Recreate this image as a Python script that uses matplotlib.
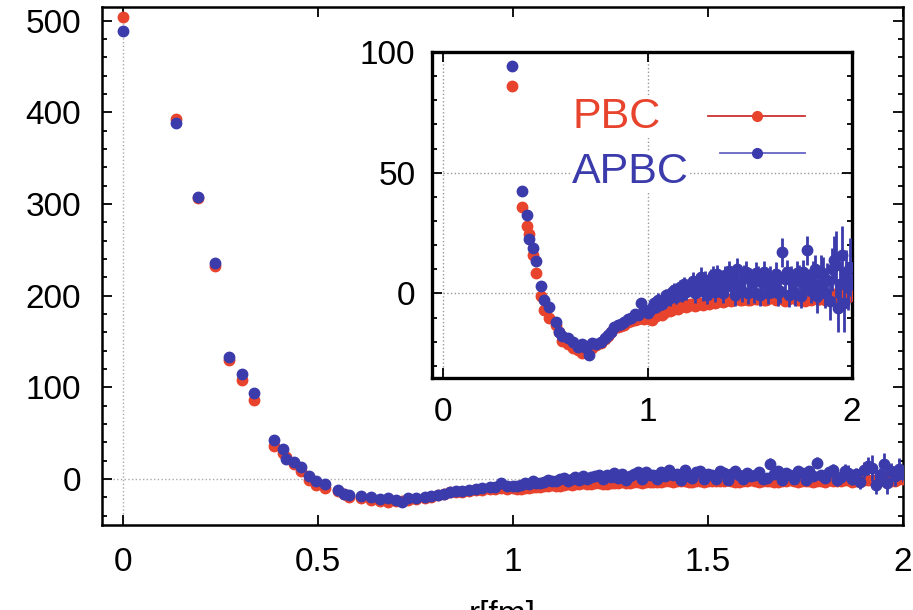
import matplotlib
matplotlib.use("Agg")
import matplotlib.pyplot as plt
from matplotlib.lines import Line2D
from matplotlib.ticker import MultipleLocator

plt.rcParams['font.family'] = ['Liberation Sans', 'DejaVu Sans']

# r in fm (same points for both boundary conditions)
r_fm = [0.000, 0.136, 0.193, 0.236, 0.272, 0.306, 0.336, 0.388, 0.410, 0.418,
        0.438, 0.456, 0.478, 0.495, 0.517, 0.550, 0.567, 0.580, 0.610, 0.635,
        0.660, 0.680, 0.700, 0.715, 0.730, 0.750, 0.773, 0.790, 0.807, 0.822,
        0.838, 0.855, 0.870, 0.887, 0.905, 0.920, 0.940, 0.955, 0.970, 0.985,
        1.000,
        1.01, 1.02, 1.03, 1.04, 1.05, 1.06, 1.07, 1.08, 1.09, 1.10,
        1.11, 1.12, 1.13, 1.14, 1.15, 1.16, 1.17, 1.18, 1.19, 1.20,
        1.21, 1.22, 1.23, 1.24, 1.25, 1.26, 1.27, 1.28, 1.29, 1.30,
        1.31, 1.32, 1.33, 1.34, 1.35, 1.36, 1.37, 1.38, 1.39, 1.40,
        1.41, 1.42, 1.43, 1.44, 1.45, 1.46, 1.47, 1.48, 1.49, 1.50,
        1.51, 1.52, 1.53, 1.54, 1.55, 1.56, 1.57, 1.58, 1.59, 1.60,
        1.61, 1.62, 1.63, 1.64, 1.65, 1.66, 1.67, 1.68, 1.69, 1.70,
        1.71, 1.72, 1.73, 1.74, 1.75, 1.76, 1.77, 1.78, 1.79, 1.80,
        1.81, 1.82, 1.83, 1.84, 1.85, 1.86, 1.87, 1.88, 1.89, 1.90,
        1.91, 1.92, 1.93, 1.94, 1.95, 1.96, 1.97, 1.98, 1.99, 2.00]

pbc = [504, 393, 307, 232, 130, 108, 86, 36, 28, 24.6,
       16, 8.4, -1.0, -6.7, -10, -13, -16, -19.5, -21, -22.5,
       -23.5, -24.6, -24, -23.5, -22.5, -21.5, -20.5, -19, -17.5, -16,
       -14.5, -14, -13.5, -13, -12, -11.5, -11, -10.5, -10, -10.5,
       -10,
       -10.5, -10.8, -9.8, -9.5, -9.0, -8.5, -8.8, -8.0, -7.2, -6.7,
       -7.4, -7.0, -6.0, -5.5, -6.3, -5.8, -5.0, -4.6, -5.4, -5.0,
       -4.4, -4.2, -5.1, -4.8, -3.9, -4.0, -4.6, -3.5, -3.9, -4.2,
       -3.2, -3.0, -3.8, -3.5, -2.6, -2.8, -3.6, -3.2, -2.4, -2.2,
       -3.0, -2.5, -1.9, -1.7, -2.9, -2.6, -2.0, -1.8, -2.8, -2.5,
       -1.6, -1.5, -2.4, -2.2, -1.4, -1.8, -2.9, -2.7, -1.9, -2.0,
       -1.2, -1.5, -2.6, -2.4, -1.6, -1.8, -3.0, -2.8, -1.7, -2.0,
       -1.3, -1.5, -2.7, -2.5, -1.6, -2.5, -3.1, -1.8, -2.2, -2.8,
       -1.1, -1.5, -2.4, -2.2, -0.8, -1.0, -2.6, -2.0, -0.9, -1.2,
       -0.6, -1.0, -2.3, -2.0, -0.2, -0.5, -1.8, -1.5, 0.5, 0.0]

pbc_err = [0.5, 0.5, 0.5, 0.5, 0.5, 0.5, 0.5, 0.5, 0.5, 0.5,
           0.5, 0.5, 0.5, 0.5, 0.5, 0.8, 0.8, 0.8, 0.8, 0.8,
           1.0, 1.0, 1.0, 1.0, 1.0, 1.0, 1.0, 1.0, 1.0, 1.0,
           1.0, 1.0, 1.0, 1.0, 1.0, 1.0, 1.0, 1.0, 1.0, 1.0,
           1.2,
           1.2, 1.2, 1.2, 1.2, 1.2, 1.2, 1.2, 1.2, 1.2, 1.2,
           1.2, 1.2, 1.2, 1.2, 1.2, 1.2, 1.2, 1.2, 1.2, 1.2,
           1.5, 1.5, 1.5, 1.5, 1.5, 1.5, 1.5, 1.5, 1.5, 1.5,
           1.5, 1.5, 1.5, 1.5, 1.5, 1.5, 1.5, 1.5, 1.5, 1.5,
           1.5, 1.5, 1.5, 1.5, 1.5, 1.5, 1.5, 1.5, 1.5, 1.5,
           2.0, 2.0, 2.0, 2.0, 2.0, 2.0, 2.0, 2.0, 2.0, 2.0,
           2.0, 2.0, 2.0, 2.0, 2.0, 2.0, 2.0, 2.0, 2.0, 2.0,
           2.0, 2.0, 2.0, 2.0, 2.0, 2.0, 2.0, 2.0, 2.0, 2.0,
           2.5, 2.5, 2.5, 2.5, 2.5, 2.5, 2.5, 2.5, 2.5, 2.5,
           3.0, 3.0, 3.0, 3.0, 3.0, 3.0, 3.0, 3.0, 3.0, 3.0]

apbc = [489, 389, 308, 236, 133, 115, 94, 42.5, 32.5, 22.5,
        18.8, 13.5, 3.0, -2.5, -5.4, -12, -15.8, -17.5, -18.3, -20,
        -22, -21, -22.5, -25.4, -20.4, -21, -20, -18.5, -17, -16,
        -14, -13, -12.5, -12, -10.5, -10, -8.5, -9, -3.8, -7,
        -8,
        -7.0, -6.0, -4.0, -5.5, -2.5, -4.0, -4.2, -3.0, -0.5, -2.2,
        -2.0, 0.5, 1.5, -1.5, 0.0, 2.5, -0.5, 3.8, 0.5, 2.0,
        3.0, 5.0, 0.0, 4.0, 2.5, 7.0, 1.0, 5.5, -0.5, 3.5,
        6.0, 7.5, 0.5, 8.0, 4.0, 5.0, 0.0, 7.5, 3.0, 9.5,
        4.0, 6.0, -0.5, 10.0, 3.5, 1.0, 7.5, 9.0, 0.0, 6.0,
        4.5, 0.5, 8.5, 7.0, -0.5, 5.5, 9.0, 4.0, 0.0, 7.0,
        3.0, 5.0, 8.0, 0.0, 1.0, 17.0, 6.0, 9.0, -0.5, 6.5,
        4.5, 0.0, 8.5, 7.0, -1.0, 8.7, 3.0, 18.0, 5.0, 1.0,
        7.5, 10.0, -1.0, 2.5, 9.0, 7.0, 0.0, 5.5, -3.0, 10.0,
        14.0, 12.0, -6.0, 4.0, 16.0, -4.0, 9.0, 3.0, 11.0, 6.0]

apbc_err = [0.5, 0.5, 0.5, 0.5, 0.5, 0.5, 0.5, 0.5, 0.5, 0.5,
            0.5, 0.5, 0.5, 0.5, 0.5, 1.0, 1.0, 1.0, 1.0, 1.0,
            1.2, 1.2, 1.2, 1.2, 1.2, 1.2, 1.2, 1.2, 1.2, 1.2,
            1.5, 1.5, 1.5, 1.5, 1.5, 1.5, 1.5, 1.5, 1.5, 1.5,
            2.0,
            2.5, 2.5, 2.5, 2.5, 2.5, 2.5, 2.5, 2.5, 2.5, 2.5,
            3.0, 3.0, 3.0, 3.0, 3.0, 3.0, 3.0, 3.0, 3.0, 3.0,
            4.0, 4.0, 4.0, 4.0, 4.0, 4.0, 4.0, 4.0, 4.0, 4.0,
            4.0, 4.0, 4.0, 4.0, 4.0, 4.0, 4.0, 4.0, 4.0, 4.0,
            4.5, 4.5, 4.5, 4.5, 4.5, 4.5, 4.5, 4.5, 4.5, 4.5,
            4.5, 4.5, 4.5, 4.5, 4.5, 4.5, 4.5, 4.5, 4.5, 4.5,
            5.0, 5.0, 5.0, 5.0, 5.0, 6.0, 5.0, 5.0, 5.0, 5.0,
            5.0, 5.0, 5.0, 5.0, 5.0, 5.0, 5.0, 6.0, 5.0, 5.0,
            6.0, 6.0, 7.0, 6.0, 7.0, 8.0, 6.0, 7.0, 8.0, 9.0,
            10.0, 14.0, 10.0, 8.0, 12.0, 12.0, 9.0, 10.0, 12.0, 9.0]

red = "#e8432c"
blue = "#3b3bab"
labels = ["PBC", "APBC"]

W, H = 913, 610
fig = plt.figure(figsize=(W / 100, H / 100), dpi=100)


def px_box(left, top, right, bottom):
    return [left / W, 1 - bottom / H, (right - left) / W, (bottom - top) / H]


def draw_series(ax, ms):
    ax.errorbar(r_fm, pbc, yerr=pbc_err, fmt="o", ms=ms, color=red,
                ecolor=red, elinewidth=2.0, capsize=0, zorder=3)
    ax.errorbar(r_fm, apbc, yerr=apbc_err, fmt="o", ms=ms, color=blue,
                ecolor=blue, elinewidth=2.0, capsize=0, zorder=4)


def style_axes(ax, lw, pad_x, pad_y):
    for s in ax.spines.values():
        s.set_linewidth(lw)
    ax.tick_params(which="both", direction="in", top=True, right=True,
                   labelsize=24, width=1.3)
    ax.tick_params(which="major", length=7)
    ax.tick_params(which="minor", length=3.5)
    ax.tick_params(axis="x", pad=pad_x)
    ax.tick_params(axis="y", pad=pad_y)


# main panel
ax = fig.add_axes(px_box(102, 7, 903, 525))
draw_series(ax, 7.5)
ax.set_xlim(-0.054, 2.0)
ax.set_ylim(-50, 515)
ax.set_xticks([0, 0.5, 1, 1.5, 2])
ax.set_xticklabels(["0", "0.5", "1", "1.5", "2"])
ax.set_yticks([0, 100, 200, 300, 400, 500])
ax.yaxis.set_minor_locator(MultipleLocator(20))
ax.axhline(0, color="#aaaaaa", ls=":", lw=1, zorder=1)
ax.axvline(0, color="#aaaaaa", ls=":", lw=1, zorder=1)
style_axes(ax, 1.8, 16, 15)
fig.text(502 / W, (H - 624) / H, "r[fm]", fontsize=24, ha="center", va="baseline")

# inset
axi = fig.add_axes(px_box(432, 52, 852, 378))
axi.set_facecolor("white")
draw_series(axi, 7.5)
axi.set_xlim(-0.054, 2.0)
axi.set_ylim(-35, 100)
axi.set_xticks([0, 1, 2])
axi.set_xticklabels(["0", "1", "2"])
axi.set_yticks([0, 50, 100])
axi.yaxis.set_minor_locator(MultipleLocator(10))
axi.grid(True, which="major", color="#999999", ls=":", lw=1)
axi.set_axisbelow(True)
style_axes(axi, 2.4, 14, 12)

# key: label text on the left, sample line with point on the right
key_rows = [(labels[0], red, "#c83232", 128, 116, 708),
            (labels[1], blue, "#6464c4", 183, 153, 720)]
for name, tcol, lcol, base_px, line_px, x0 in key_rows:
    fig.text(572 / W, (H - base_px) / H, name, fontsize=31, color=tcol,
             ha="left", va="baseline",
             bbox=dict(facecolor="white", edgecolor="none", pad=1))
    yl = (H - line_px) / H
    fig.add_artist(Line2D([x0 / W, 757 / W, 805 / W], [yl, yl, yl], color=lcol, lw=1.3,
                          marker="o", ms=7, mfc=tcol, mec=tcol, markevery=[1],
                          transform=fig.transFigure))

fig.savefig("out.png", dpi=100)
